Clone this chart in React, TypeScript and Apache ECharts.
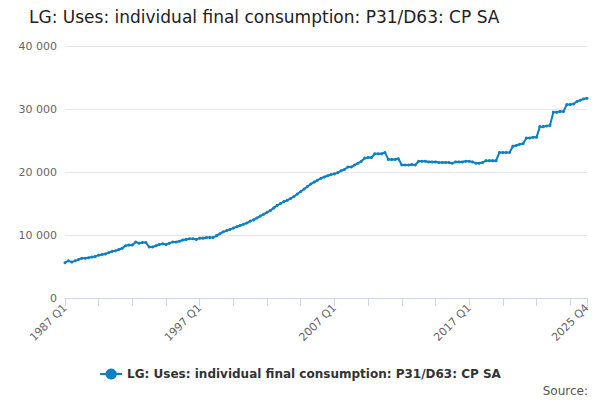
import { useEffect, useRef } from "react";
import * as echarts from "echarts";

const years = Array.from({ length: 39 }, (_, i) => 1987 + i);
const quarters = years.flatMap((y) => [`${y} Q1`, `${y} Q2`, `${y} Q3`, `${y} Q4`]);

const values = [
  5600, 5900, 5700, 5900,
  6100, 6300, 6300, 6400,
  6500, 6600, 6800, 6900,
  7000, 7200, 7400, 7500,
  7700, 7900, 8300, 8400,
  8400, 8900, 8700, 8800,
  8800, 8100, 8100, 8300,
  8500, 8600, 8500, 8700,
  8900, 8900, 9000, 9200,
  9300, 9400, 9400, 9300,
  9500, 9500, 9600, 9600,
  9600, 9900, 10200, 10500,
  10700, 10900, 11100, 11300,
  11500, 11700, 11900, 12200,
  12400, 12700, 13000, 13300,
  13600, 13900, 14300, 14700,
  15000, 15300, 15500, 15800,
  16100, 16500, 16900, 17300,
  17700, 18100, 18400, 18700,
  19000, 19200, 19400, 19600,
  19700, 19900, 20200, 20400,
  20800, 20800, 21100, 21400,
  21700, 22200, 22300, 22300,
  22900, 22900, 22900, 23100,
  22000, 22000, 22000, 22100,
  21100, 21100, 21100, 21200,
  21100, 21700, 21700, 21700,
  21600, 21600, 21600, 21500,
  21500, 21500, 21500, 21400,
  21600, 21600, 21600, 21700,
  21700, 21600, 21400, 21400,
  21500, 21800, 21800, 21800,
  21800, 23100, 23100, 23100,
  23100, 24100, 24200, 24400,
  24500, 25400, 25400, 25500,
  25500, 27200, 27200, 27300,
  27400, 29500, 29500, 29600,
  29600, 30700, 30700, 30800,
  31200, 31400, 31600, 31700,
];

const seriesName = "LG: Uses: individual final consumption: P31/D63: CP SA";

export default function App() {
  const ref = useRef<HTMLDivElement>(null);

  useEffect(() => {
    if (!ref.current) return;
    const chart = echarts.init(ref.current, null, { renderer: "svg" });
    const last = quarters.length - 1;
    chart.setOption({
      animation: false,
      textStyle: { fontFamily: "DejaVu Sans" },
      title: {
        text: seriesName,
        left: 24,
        top: 3,
        textStyle: { fontSize: 17, fontWeight: "normal", color: "#222" },
      },
      legend: {
        bottom: 15,
        left: "center",
        itemWidth: 22,
        textStyle: { fontSize: 12, color: "#333", fontWeight: "bold" },
      },
      graphic: [
        {
          type: "text",
          right: 12,
          bottom: 3,
          style: { text: "Source:", fontSize: 12, fill: "#555", fontFamily: "DejaVu Sans" },
        },
      ],
      grid: { left: 65, right: 13, top: 46, bottom: 102 },
      xAxis: {
        type: "category",
        data: quarters,
        boundaryGap: false,
        axisLine: { lineStyle: { color: "#ccd6eb" } },
        axisTick: {
          interval: (i: number) => i % 10 === 0 || i === last,
          length: 8,
          lineStyle: { color: "#ccd6eb" },
        },
        axisLabel: {
          interval: (i: number) => i % 40 === 0 || i === last,
          rotate: 45,
          color: "#666",
          fontSize: 11,
        },
      },
      yAxis: {
        type: "value",
        min: 0,
        max: 40000,
        interval: 10000,
        axisLabel: {
          color: "#666",
          fontSize: 11,
          formatter: (v: number) => String(v).replace(/\B(?=(\d{3})+(?!\d))/g, " "),
        },
        splitLine: { lineStyle: { color: "#e6e6e6" } },
      },
      series: [
        {
          name: seriesName,
          type: "line",
          data: values,
          symbol: "circle",
          symbolSize: 3,
          showAllSymbol: true,
          color: "#0b80c5",
          lineStyle: { width: 2 },
        },
      ],
    });
    return () => chart.dispose();
  }, []);

  return (
    <div
      ref={ref}
      style={{ position: "absolute", top: 0, left: 0, width: 600, height: 400 }}
    />
  );
}
